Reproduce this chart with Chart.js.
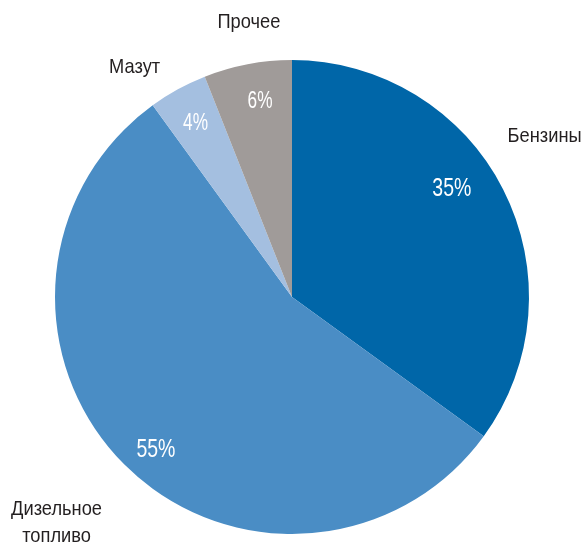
<!DOCTYPE html>
<html>
<head>
<meta charset="utf-8">
<script src="https://cdn.jsdelivr.net/npm/chart.js@4.4.0/dist/chart.umd.min.js"></script>
<style>
  html, body { margin: 0; padding: 0; background: #fff; }
  #wrap { width: 582px; height: 544px; position: relative; }
</style>
</head>
<body>
<div id="wrap"><canvas id="pie"></canvas></div>
<script>
// Структура потребления нефтепродуктов, %
const categories = ['Бензины', 'Дизельное топливо', 'Мазут', 'Прочее'];
const shares = [35, 55, 4, 6];
const sliceColors = ['#0066a8', '#4a8dc5', '#a4bfe0', '#a09b99'];
// подписи категорий (в несколько строк)
const nameLines = [['Бензины'], ['Дизельное', 'топливо'], ['Мазут'], ['Прочее']];

// где рисовать подписи: deg — угол от 12 часов по часовой, r — доля радиуса (по базовой линии)
const pctPlace = [
    { deg: 57.7, r: 0.798, size: 26 },
    { deg: 220.4, r: 0.886, size: 26 },
    { deg: 330, r: 0.814, size: 23 },
    { deg: 350.4, r: 0.809, size: 23 }
];
const namePlace = [
    { deg: 58.5, r: 1.25 },
    { deg: 227.2, r: 1.354 },
    { deg: 324.9, r: 1.155 },
    { deg: 350.9, r: 1.149 }
];

const FONT = '"Liberation Sans", Arial, sans-serif';

function drawText(ctx, text, x, y, size, color, sx) {
    ctx.save();
    ctx.translate(x, y);
    ctx.scale(sx, 1);
    ctx.font = size + 'px ' + FONT;
    ctx.fillStyle = color;
    ctx.textAlign = 'center';
    ctx.textBaseline = 'alphabetic';
    ctx.fillText(text, 0, 0);
    ctx.restore();
}

function polar(cx, cy, deg, dist) {
    const a = (deg - 90) * Math.PI / 180;
    return [cx + Math.cos(a) * dist, cy + Math.sin(a) * dist];
}

const pieLabels = {
    id: 'pieLabels',
    afterDatasetsDraw(chart) {
        const ctx = chart.ctx;
        chart.getDatasetMeta(0).data.forEach((arc, i) => {
            const { x, y, outerRadius } = arc.getProps(['x', 'y', 'outerRadius']);

            let p = pctPlace[i];
            let pt = polar(x, y, p.deg, outerRadius * p.r);
            drawText(ctx, shares[i] + '%', pt[0], pt[1], p.size, '#ffffff', 0.75);

            p = namePlace[i];
            pt = polar(x, y, p.deg, outerRadius * p.r);
            nameLines[i].forEach((ln, k) => {
                drawText(ctx, ln, pt[0], pt[1] + k * 27, 21, '#231f20', 0.87);
            });
        });
    }
};

new Chart(document.getElementById('pie'), {
    type: 'pie',
    data: {
        labels: categories,
        datasets: [{
            data: shares,
            backgroundColor: sliceColors,
            borderWidth: 0
        }]
    },
    options: {
        responsive: true,
        maintainAspectRatio: false,
        animation: false,
        layout: { padding: { left: 55, right: 53, top: 60, bottom: 10 } },
        plugins: {
            legend: { display: false },
            tooltip: { enabled: false }
        }
    },
    plugins: [pieLabels]
});
</script>
</body>
</html>
